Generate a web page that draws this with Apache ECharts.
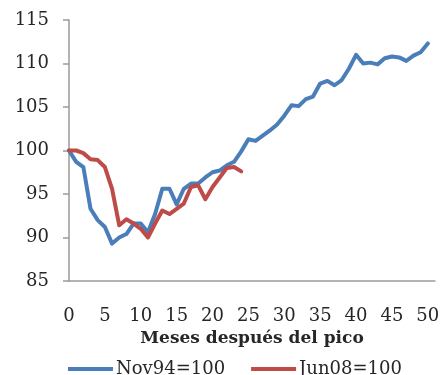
<!DOCTYPE html>
<html>
<head>
<meta charset="utf-8">
<script src="https://cdn.jsdelivr.net/npm/echarts@6/dist/echarts.min.js"></script>
<style>
  html, body { margin: 0; padding: 0; background: #fff; }
  #chart { width: 443px; height: 375px; }
</style>
</head>
<body>
<div id="chart"></div>
<script>
// Months after the peak (0..50)
const months = Array.from({ length: 51 }, (_, i) => i);

// Index, Nov94 = 100
const nov94 = [
  100.0, 98.7, 98.1, 93.3, 92.0, 91.2, 89.3, 90.0, 90.4, 91.6,
  91.6, 90.6, 92.7, 95.6, 95.6, 93.8, 95.6, 96.2, 96.2, 96.9,
  97.5, 97.7, 98.3, 98.7, 99.9, 101.3, 101.1, 101.7, 102.3, 103.0,
  104.0, 105.2, 105.1, 105.9, 106.2, 107.7, 108.0, 107.5, 108.1, 109.4,
  111.0, 110.0, 110.1, 109.9, 110.6, 110.8, 110.7, 110.3, 110.9, 111.3,
  112.3
];

// Index, Jun08 = 100
const jun08 = [
  100.0, 100.0, 99.7, 99.0, 98.9, 98.1, 95.6, 91.4, 92.1, 91.6,
  91.0, 90.0, 91.6, 93.1, 92.7, 93.3, 93.9, 95.8, 96.0, 94.4,
  95.8, 96.9, 98.0, 98.1, 97.6
];

const seriesNames = ['Nov94=100', 'Jun08=100'];
const seriesColors = ['#4A7EBB', '#BE4B48'];
const axisTitle = 'Meses después del pico';

const font = 'DejaVu Serif';
const textColor = '#262626';
const axisColor = '#9a9a9a';

const pairs = (ys) => ys.map((v, i) => [months[i], v]);

const chart = echarts.init(document.getElementById('chart'), null, { renderer: 'canvas' });
chart.setOption({
  animation: false,
  textStyle: { fontFamily: font, color: textColor },
  grid: { left: 69, right: 8, top: 20, bottom: 94, containLabel: false },
  xAxis: {
    type: 'value',
    min: 0,
    max: 51,
    interval: 5,
    name: axisTitle,
    nameLocation: 'middle',
    nameGap: 44,
    nameTextStyle: { fontFamily: font, fontWeight: 'bold', fontSize: 17, color: textColor },
    axisLine: { show: true, onZero: false, lineStyle: { color: axisColor, width: 1.5 } },
    axisTick: { show: false },
    splitLine: { show: false },
    axisLabel: {
      margin: 26,
      fontFamily: font,
      fontSize: 18,
      color: textColor,
      formatter: (v) => (v % 5 === 0 ? String(v) : '')
    }
  },
  yAxis: {
    type: 'value',
    min: 85,
    max: 115,
    interval: 5,
    axisLine: { show: true, lineStyle: { color: axisColor, width: 1.5 } },
    axisTick: { show: true, length: 6, lineStyle: { color: axisColor, width: 1.5 } },
    splitLine: { show: false },
    axisLabel: { margin: 20, fontFamily: font, fontSize: 18, color: textColor }
  },
  legend: {
    left: 63,
    top: 355,
    itemWidth: 45,
    itemHeight: 4,
    itemGap: 26,
    icon: 'rect',
    textStyle: { fontFamily: font, fontSize: 18, color: textColor, padding: [0, 0, 0, -2] },
    data: seriesNames
  },
  series: [
    {
      name: seriesNames[0],
      type: 'line',
      data: pairs(nov94),
      showSymbol: false,
      symbol: 'none',
      lineStyle: { color: seriesColors[0], width: 4, join: 'round', cap: 'round' },
      itemStyle: { color: seriesColors[0] },
      z: 2
    },
    {
      name: seriesNames[1],
      type: 'line',
      data: pairs(jun08),
      showSymbol: false,
      symbol: 'none',
      lineStyle: { color: seriesColors[1], width: 4, join: 'round', cap: 'round' },
      itemStyle: { color: seriesColors[1] },
      z: 3
    }
  ]
});
</script>
</body>
</html>
